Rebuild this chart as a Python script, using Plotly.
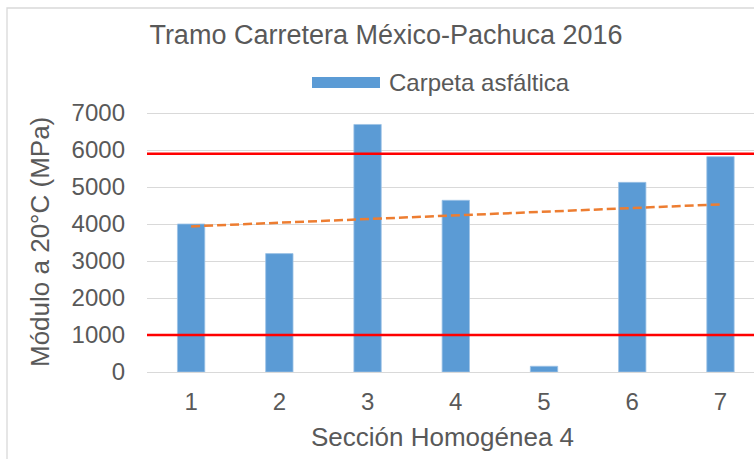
import numpy as np
import plotly.graph_objects as go

# Data
secciones = [1, 2, 3, 4, 5, 6, 7]
modulo_mpa = [4000, 3200, 6690, 4640, 155, 5125, 5820]
limites = [1000, 5900]
serie = "Carpeta asfáltica"
titulo = "Tramo Carretera México-Pachuca 2016"
eje_x = "Sección Homogénea 4"
eje_y = "Módulo a 20°C (MPa)"
y_ticks = [0, 1000, 2000, 3000, 4000, 5000, 6000, 7000]

GRIS = "#595959"
AZUL = "#5B9BD5"
NARANJA = "#ED7D31"
FONT = "Liberation Sans, Arial, sans-serif"

# Plot area in pixels (left, right, top, bottom)
PL, PR, PT, PB = 147, 754, 108, 372


def px_x(p):
    return (p - PL) / (PR - PL)


def px_y(p):
    return (PB - p) / (PB - PT)


# Linear trend of the series
pend, orden = np.polyfit(secciones, modulo_mpa, 1)
tendencia = [pend * s + orden for s in secciones]

fig = go.Figure()
fig.add_trace(go.Bar(
    x=secciones, y=modulo_mpa, name=serie, width=0.31,
    marker=dict(color=AZUL, line=dict(color="#9DC3E6", width=0.8)),
    showlegend=False,
))
fig.add_trace(go.Scatter(
    x=secciones, y=tendencia, mode="lines", showlegend=False,
    line=dict(color=NARANJA, width=2.5, dash="9px,4px"),
))

# Horizontal limit lines across the plot
for lim in limites:
    fig.add_shape(type="line", xref="paper", yref="y", x0=0, x1=1,
                  y0=lim, y1=lim, line=dict(color="#FF0000", width=2.5),
                  layer="above")

# Chart area border
fig.add_shape(type="rect", xref="paper", yref="paper",
              x0=px_x(7), x1=px_x(800), y0=px_y(520), y1=px_y(8),
              line=dict(color="#D9D9D9", width=1.3), layer="below")

# Legend entry
fig.add_shape(type="rect", xref="paper", yref="paper",
              x0=px_x(312), x1=px_x(380), y0=px_y(88), y1=px_y(77),
              line=dict(width=0), fillcolor=AZUL)
fig.add_annotation(xref="paper", yref="paper", x=px_x(387), y=px_y(82),
                   text=serie, showarrow=False, xanchor="left",
                   yanchor="middle", font=dict(size=24, color=GRIS, family=FONT))

# Axis titles
fig.add_annotation(xref="paper", yref="paper", x=px_x(442), y=px_y(437),
                   text=eje_x, showarrow=False, xanchor="center",
                   yanchor="middle", font=dict(size=26, color=GRIS, family=FONT))
fig.add_annotation(xref="paper", yref="paper", x=px_x(40), y=px_y(242),
                   text=eje_y, showarrow=False, textangle=-90,
                   xanchor="center", yanchor="middle",
                   font=dict(size=26, color=GRIS, family=FONT))

fig.update_layout(
    width=754, height=459,
    margin=dict(l=PL, r=754 - PR, t=PT, b=459 - PB),
    paper_bgcolor="white", plot_bgcolor="white",
    font=dict(family=FONT, color=GRIS),
    title=dict(text=titulo, x=386 / 754, xanchor="center", xref="container",
               y=1 - 35 / 459, yanchor="middle", yref="container",
               font=dict(size=27, color=GRIS, family=FONT)),
    bargap=0.69,
)
fig.update_xaxes(
    range=[0.5, 7.38], tickvals=secciones, ticks="", showgrid=False,
    showline=False, zeroline=False, tickfont=dict(size=24, color=GRIS),
    ticklabelstandoff=13,
)
fig.update_yaxes(
    range=[0, 7135], tickvals=y_ticks, ticks="", showgrid=True,
    gridcolor="#D9D9D9", gridwidth=1.3, zeroline=True, zerolinecolor="#D9D9D9",
    zerolinewidth=1.3, showline=False, tickfont=dict(size=24, color=GRIS),
    ticklabelstandoff=21,
)

fig.write_html("out.html")
